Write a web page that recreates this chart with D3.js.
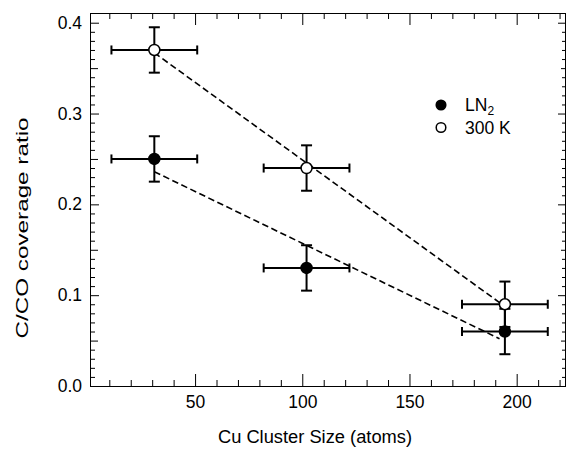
<!DOCTYPE html>
<html>
<head>
<meta charset="utf-8">
<script src="https://cdn.jsdelivr.net/npm/d3@7"></script>
<style>
  body { margin: 0; background: #fff; }
  svg text { font-family: "Liberation Sans", Arial, Helvetica, sans-serif; fill: #000; }
  .axis path { display: none; }
  .axis line { stroke: #000; stroke-width: 1; }
  .minor text { display: none; }
</style>
</head>
<body>
<div id="chart"></div>
<script>
// cluster sizes (atoms) and coverage ratios
var clusterSize = [31, 102, 194.5];
var ratioLN2 = [0.25, 0.13, 0.06];
var ratio300K = [0.37, 0.24, 0.09];
var sizeErr = [20, 20, 20];
var ratioErr = [0.025, 0.025, 0.025];
var fitRange = [31, 192];

var xMajorTicks = [50, 100, 150, 200];
var yMajorTicks = [0.0, 0.1, 0.2, 0.3, 0.4];
var seriesNames = ["LN", "300 K"];

var W = 567, H = 449;
var margin = {left: 90, right: 1, top: 13, bottom: 63};

var svg = d3.select("#chart").append("svg")
    .attr("width", W)
    .attr("height", H);

var x = d3.scaleLinear().domain([1, 223]).range([margin.left, W - margin.right]);
var y = d3.scaleLinear().domain([0, 0.4107]).range([H - margin.bottom, margin.top]);

var x0 = margin.left, x1 = W - margin.right, y0 = H - margin.bottom, y1 = margin.top;

var xMinor = d3.range(10, 221, 10).filter(function(v) { return v % 50 != 0; });
var yMinor = d3.range(1, 41).map(function(v) { return v / 100; }).filter(function(v) { return Math.round(v * 100) % 5 != 0; });
var yMid = [0.05, 0.15, 0.25, 0.35];

// bottom axis
svg.append("g").attr("class", "axis")
    .attr("transform", "translate(0," + y0 + ")")
    .call(d3.axisBottom(x).tickValues(xMajorTicks).tickSizeInner(-12).tickSizeOuter(0).tickPadding(10).tickFormat(d3.format("d")))
    .selectAll("text").style("font-size", "17.5px");
svg.append("g").attr("class", "axis minor")
    .attr("transform", "translate(0," + y0 + ")")
    .call(d3.axisBottom(x).tickValues(xMinor).tickSizeInner(-6).tickSizeOuter(0));

// top axis
svg.append("g").attr("class", "axis minor")
    .attr("transform", "translate(0," + y1 + ")")
    .call(d3.axisTop(x).tickValues(xMajorTicks).tickSizeInner(-12).tickSizeOuter(0));
svg.append("g").attr("class", "axis minor")
    .attr("transform", "translate(0," + y1 + ")")
    .call(d3.axisTop(x).tickValues(xMinor).tickSizeInner(-6).tickSizeOuter(0));

// left axis
svg.append("g").attr("class", "axis")
    .attr("transform", "translate(" + x0 + ",0)")
    .call(d3.axisLeft(y).tickValues(yMajorTicks).tickSizeInner(-9).tickSizeOuter(0).tickPadding(8).tickFormat(d3.format(".1f")))
    .selectAll("text").style("font-size", "17.5px");
svg.append("g").attr("class", "axis minor")
    .attr("transform", "translate(" + x0 + ",0)")
    .call(d3.axisLeft(y).tickValues(yMid).tickSizeInner(-8).tickSizeOuter(0));
svg.append("g").attr("class", "axis minor")
    .attr("transform", "translate(" + x0 + ",0)")
    .call(d3.axisLeft(y).tickValues(yMinor).tickSizeInner(-5).tickSizeOuter(0));

// right axis
svg.append("g").attr("class", "axis minor")
    .attr("transform", "translate(" + x1 + ",0)")
    .call(d3.axisRight(y).tickValues(yMajorTicks).tickSizeInner(-8).tickSizeOuter(0));
svg.append("g").attr("class", "axis minor")
    .attr("transform", "translate(" + x1 + ",0)")
    .call(d3.axisRight(y).tickValues(yMid).tickSizeInner(-5).tickSizeOuter(0));
svg.append("g").attr("class", "axis minor")
    .attr("transform", "translate(" + x1 + ",0)")
    .call(d3.axisRight(y).tickValues(yMinor).tickSizeInner(-4).tickSizeOuter(0));

// frame
svg.append("rect")
    .attr("x", x0 + 0.5).attr("y", y1 + 0.5)
    .attr("width", x1 - x0 - 1).attr("height", y0 - y1)
    .attr("fill", "none").attr("stroke", "#000").attr("stroke-width", 1);

// axis titles
svg.append("text")
    .attr("x", 315).attr("y", 443)
    .attr("text-anchor", "middle")
    .style("font-size", "18.3px")
    .text("Cu Cluster Size (atoms)");

svg.append("text")
    .attr("transform", "translate(28,228) rotate(-90)")
    .attr("text-anchor", "middle")
    .attr("textLength", 221)
    .attr("lengthAdjust", "spacingAndGlyphs")
    .style("font-size", "17px")
    .text("C/CO coverage ratio");

// linear fits
function fit(xs, ys) {
    var mx = d3.mean(xs), my = d3.mean(ys), sxy = 0, sxx = 0;
    for (var i = 0; i < xs.length; i++) {
        sxy += (xs[i] - mx) * (ys[i] - my);
        sxx += (xs[i] - mx) * (xs[i] - mx);
    }
    var b = sxy / sxx;
    return function(v) { return my + b * (v - mx); };
}

var series = [
    {values: ratioLN2, fill: "#000"},
    {values: ratio300K, fill: "#fff"}
];

series.forEach(function(s) {
    var f = fit(clusterSize, s.values);
    svg.append("line")
        .attr("x1", x(fitRange[0])).attr("y1", y(f(fitRange[0])))
        .attr("x2", x(fitRange[1])).attr("y2", y(f(fitRange[1])))
        .attr("stroke", "#000").attr("stroke-width", 1.6)
        .attr("stroke-dasharray", "6.5,3.5");
});

series.forEach(function(s) {
    var g = svg.append("g");
    for (var i = 0; i < clusterSize.length; i++) {
        var cx = x(clusterSize[i]), cy = y(s.values[i]);
        var xl = x(clusterSize[i] - sizeErr[i]), xr = x(clusterSize[i] + sizeErr[i]);
        var yt = y(s.values[i] + ratioErr[i]), yb = y(s.values[i] - ratioErr[i]);
        var eb = g.append("g").attr("stroke", "#000").attr("stroke-width", 2);
        eb.append("line").attr("x1", xl).attr("x2", xr).attr("y1", cy).attr("y2", cy);
        eb.append("line").attr("x1", xl).attr("x2", xl).attr("y1", cy - 4.5).attr("y2", cy + 4.5);
        eb.append("line").attr("x1", xr).attr("x2", xr).attr("y1", cy - 4.5).attr("y2", cy + 4.5);
        eb.append("line").attr("x1", cx).attr("x2", cx).attr("y1", yt).attr("y2", yb);
        eb.append("line").attr("x1", cx - 5.5).attr("x2", cx + 5.5).attr("y1", yt).attr("y2", yt);
        eb.append("line").attr("x1", cx - 5.5).attr("x2", cx + 5.5).attr("y1", yb).attr("y2", yb);
    }
    g.selectAll("circle").data(s.values).enter().append("circle")
        .attr("cx", function(d, i) { return x(clusterSize[i]); })
        .attr("cy", function(d) { return y(d); })
        .attr("r", 5.5)
        .attr("fill", s.fill)
        .attr("stroke", "#000").attr("stroke-width", 1.5);
});

// legend
var legend = svg.append("g").attr("transform", "translate(441,105)");
series.forEach(function(s, i) {
    legend.append("circle")
        .attr("cx", 0).attr("cy", i * 22.5)
        .attr("r", 4.8)
        .attr("fill", s.fill)
        .attr("stroke", "#000").attr("stroke-width", 1.5);
    var t = legend.append("text")
        .attr("x", 24).attr("y", i * 22.5 + 6)
        .style("font-size", "17.5px")
        .text(seriesNames[i]);
    if (i == 0) {
        t.append("tspan").attr("dy", 4).style("font-size", "12px").text("2");
    }
});
</script>
</body>
</html>
